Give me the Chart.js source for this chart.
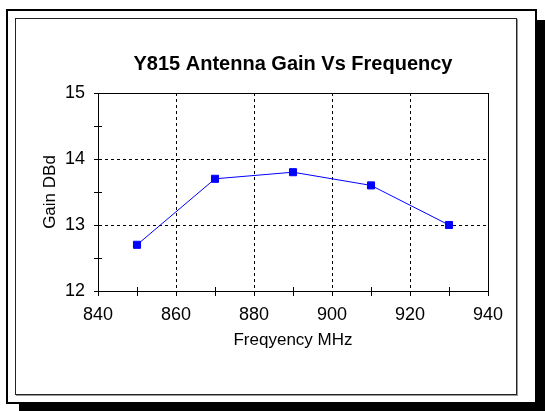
<!DOCTYPE html>
<html>
<head>
<meta charset="utf-8">
<script src="https://cdn.jsdelivr.net/npm/chart.js@4"></script>
<style>
  html, body { margin: 0; padding: 0; background: #fff; }
  #wrap { position: relative; width: 545px; height: 411px; overflow: hidden; }
  #outer { position: absolute; left: 6px; top: 9px; width: 527px; height: 391px;
           border: 2px solid #000; background: #fff; box-shadow: 13px 11px 0 0 #000; }
  #inner { position: absolute; left: 15px; top: 18px; width: 500px; height: 375px;
           border: 1px solid #222; box-shadow: 1px 1px 0 0 #999; }
  canvas { position: absolute; left: 0; top: 0; }
</style>
</head>
<body>
<div id="wrap">
  <div id="outer"></div>
  <div id="inner"></div>
  <canvas id="gainChart" width="545" height="411"></canvas>
</div>
<script>
// Data
const frequencies = [850, 870, 890, 910, 930];
const gains = [12.7, 13.7, 13.8, 13.6, 13.0];
const xLabelStep = 20;
const yLabelStep = 1;

Chart.defaults.font.family = "'Liberation Sans', Arial, sans-serif";
Chart.defaults.color = '#000';

// solid frame round the plot area and short inner ticks for minor steps
const plotFrame = {
    id: 'plotFrame',
    beforeDatasetsDraw(chart) {
        const {ctx, chartArea: a, scales} = chart;
        ctx.save();
        ctx.strokeStyle = '#000';
        ctx.lineWidth = 1;
        ctx.strokeRect(Math.round(a.left) + 0.5, Math.round(a.top) + 0.5,
            Math.round(a.right - a.left), Math.round(a.bottom - a.top));
        ctx.beginPath();
        scales.x.ticks.forEach(t => {
            if (t.value % xLabelStep !== 0) {
                const px = Math.round(scales.x.getPixelForValue(t.value)) + 0.5;
                ctx.moveTo(px, a.bottom);
                ctx.lineTo(px, a.bottom - 4);
            }
        });
        scales.y.ticks.forEach(t => {
            if (t.value % yLabelStep !== 0) {
                const py = Math.round(scales.y.getPixelForValue(t.value)) + 0.5;
                ctx.moveTo(a.left, py);
                ctx.lineTo(a.left + 4, py);
            }
        });
        ctx.stroke();
        ctx.restore();
    }
};

new Chart(document.getElementById('gainChart'), {
    type: 'line',
    data: {
        datasets: [{
            label: 'Gain',
            data: frequencies.map((f, i) => ({x: f, y: gains[i]})),
            borderColor: '#0000ff',
            backgroundColor: '#0000ff',
            borderWidth: 1,
            pointStyle: 'rect',
            pointRadius: 5,
            pointBorderWidth: 1,
            pointBorderColor: '#0000ff',
            pointBackgroundColor: '#0000ff',
            tension: 0
        }]
    },
    options: {
        responsive: false,
        animation: false,
        layout: { padding: { left: 0, right: 57, top: 0, bottom: 60 } },
        plugins: {
            legend: { display: false },
            tooltip: { enabled: false },
            title: {
                display: true,
                text: 'Y815 Antenna Gain Vs Frequency',
                fullSize: false,
                font: { size: 20, weight: 'bold' },
                color: '#000',
                padding: { top: 52, bottom: 17 }
            }
        },
        scales: {
            x: {
                type: 'linear',
                min: 840,
                max: 940,
                afterFit(scale) { scale.height = 60; },
                ticks: {
                    stepSize: 10,
                    padding: 8,
                    font: { size: 18 },
                    callback: v => (v % xLabelStep === 0 ? v : '')
                },
                grid: {
                    color: ctx => (ctx.tick && ctx.tick.value % xLabelStep === 0 ? '#000' : 'rgba(0,0,0,0)'),
                    tickColor: '#000',
                    tickLength: 5,
                    lineWidth: 1
                },
                border: { display: true, color: '#000', width: 1, dash: [3, 3] },
                title: {
                    display: true,
                    text: 'Freqyency MHz',
                    font: { size: 17 },
                    padding: { top: 12, bottom: 0 }
                }
            },
            y: {
                min: 12,
                max: 15,
                afterFit(scale) { scale.width = 98; },
                ticks: {
                    stepSize: 0.5,
                    padding: 9,
                    font: { size: 18 },
                    callback: v => (v % yLabelStep === 0 ? v : '')
                },
                grid: {
                    color: ctx => (ctx.tick && ctx.tick.value % yLabelStep === 0 ? '#000' : 'rgba(0,0,0,0)'),
                    tickColor: '#000',
                    tickLength: 4,
                    lineWidth: 1
                },
                border: { display: true, color: '#000', width: 1, dash: [3, 3] },
                title: {
                    display: true,
                    text: 'Gain DBd',
                    font: { size: 17 },
                    padding: { top: 40, bottom: 0 }
                }
            }
        }
    },
    plugins: [plotFrame]
});
</script>
</body>
</html>
